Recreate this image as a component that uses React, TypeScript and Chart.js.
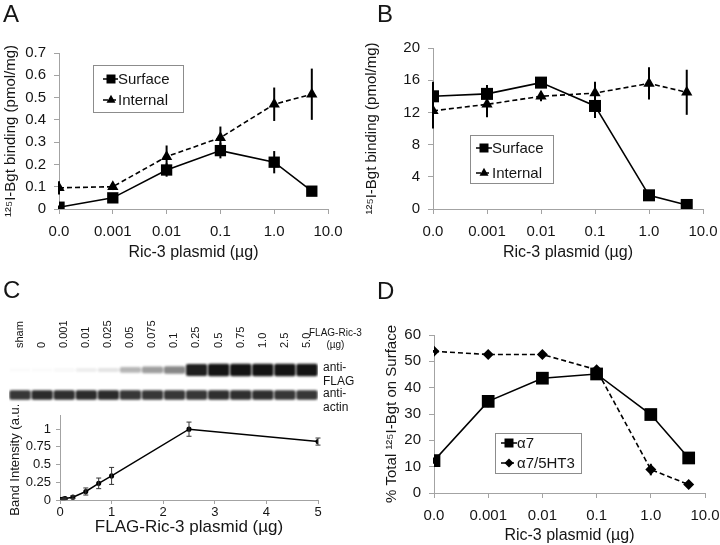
import React, { useEffect, useRef } from "react";
import { Chart, registerables } from "chart.js";
Chart.register(...registerables);

const FONT = "'Liberation Sans', Arial, Helvetica, sans-serif";
const AXIS = "#a3a3a3";
const TXT = "#151515";

// ---------- Panels A, B, D (log-like dose axis) ----------
const doses = [0, 0.001, 0.01, 0.1, 1, 5];
const logTickLabels = ["0.0", "0.001", "0.01", "0.1", "1.0", "10.0"];

const aSurface = [0.008, 0.05, 0.175, 0.262, 0.21, 0.08];
const aSurfaceErr = [0.008, 0.012, 0.03, 0.035, 0.05, 0.01];
const aInternal = [0.095, 0.1, 0.235, 0.32, 0.47, 0.515];
const aInternalErr = [0.03, 0.015, 0.05, 0.05, 0.075, 0.115];
const aYTicks = [0, 0.1, 0.2, 0.3, 0.4, 0.5, 0.6, 0.7];

const bSurface = [14.0, 14.3, 15.7, 12.8, 1.7, 0.5];
const bSurfaceErr = [1.8, 1.1, 0.3, 1.5, 0.5, 0.2];
const bInternal = [12.2, 13.0, 14.0, 14.4, 15.6, 14.5];
const bInternalErr = [2.2, 1.6, 0.6, 1.4, 2.0, 2.8];
const bYTicks = [0, 4, 8, 12, 16, 20];

const dAlpha7 = [12.3, 34.8, 43.6, 45.2, 29.8, 13.3];
const dAlpha7Err = [1.2, 2.2, 2.2, 1.5, 1.8, 0.8];
const dChimera = [53.8, 52.6, 52.6, 46.8, 8.9, 3.2];
const dChimeraErr = [0.5, 0.5, 0.5, 1.0, 2.2, 0.5];
const dYTicks = [0, 10, 20, 30, 40, 50, 60];

// ---------- Panel C ----------
const lanes = ["sham", "0", "0.001", "0.01", "0.025", "0.05", "0.075", "0.1", "0.25", "0.5", "0.75", "1.0", "2.5", "5.0"];
const flagBand = [0, 0, 0.02, 0.06, 0.1, 0.3, 0.4, 0.5, 0.95, 1, 1, 1, 1, 1];
const actinBand = [0.85, 0.9, 0.88, 0.9, 0.9, 0.85, 0.85, 0.85, 0.85, 0.88, 0.88, 0.88, 0.85, 0.85];
const cDoses = [0, 0.001, 0.01, 0.025, 0.05, 0.075, 0.1, 0.25, 0.5, 0.75, 1.0, 2.5, 5.0];
const cIntensity = [0, 0.002, 0.005, 0.008, 0.01, 0.015, 0.02, 0.04, 0.12, 0.235, 0.34, 1.0, 0.825];
const cErr = [0, 0, 0, 0, 0.005, 0.01, 0.01, 0.02, 0.05, 0.075, 0.12, 0.1, 0.05];
const cYTicks = [0, 0.25, 0.5, 0.75, 1];
const cXTicks = [0, 1, 2, 3, 4, 5];

const logPos = (d: number) => (d === 0 ? -4 : Math.log10(d));

// ---------- plugins ----------
const errorBars = {
  id: "errorBars",
  afterDatasetsDraw(chart: any) {
    const ctx = chart.ctx;
    const ys = chart.scales.y;
    chart.data.datasets.forEach((ds: any, i: number) => {
      if (!ds.errors) return;
      const meta = chart.getDatasetMeta(i);
      ctx.save();
      ctx.strokeStyle = ds.errorColor || "#000";
      ctx.lineWidth = ds.errorWidth || 1.5;
      meta.data.forEach((pt: any, j: number) => {
        const e = ds.errors[j];
        if (!e) return;
        const v = ds.data[j].y;
        const y1 = ys.getPixelForValue(v + e);
        const y2 = ys.getPixelForValue(v - e);
        ctx.beginPath();
        ctx.moveTo(pt.x, y1);
        ctx.lineTo(pt.x, y2);
        const cap = ds.errorCap || 0;
        if (cap) {
          ctx.moveTo(pt.x - cap, y1);
          ctx.lineTo(pt.x + cap, y1);
          ctx.moveTo(pt.x - cap, y2);
          ctx.lineTo(pt.x + cap, y2);
        }
        ctx.stroke();
      });
      ctx.restore();
    });
  },
};

function drawMarker(ctx: CanvasRenderingContext2D, style: string, r: number, x: number, y: number) {
  ctx.beginPath();
  if (style === "rect") {
    ctx.rect(x - r, y - r, 2 * r, 2 * r);
  } else if (style === "triangle") {
    ctx.moveTo(x, y - r * 1.15);
    ctx.lineTo(x + r, y + r * 0.6);
    ctx.lineTo(x - r, y + r * 0.6);
    ctx.closePath();
  } else {
    ctx.moveTo(x, y - r);
    ctx.lineTo(x + r, y);
    ctx.lineTo(x, y + r);
    ctx.lineTo(x - r, y);
    ctx.closePath();
  }
  ctx.fill();
}

const boxLegend = {
  id: "boxLegend",
  afterDraw(chart: any, _a: any, opts: any) {
    if (!opts || !opts.box) return;
    const ctx = chart.ctx;
    const [bx, by, bw, bh] = opts.box;
    ctx.save();
    ctx.strokeStyle = "#8c8c8c";
    ctx.lineWidth = 1;
    ctx.strokeRect(bx + 0.5, by + 0.5, bw, bh);
    chart.data.datasets.forEach((ds: any, i: number) => {
      const y = opts.rows[i];
      ctx.strokeStyle = "#000";
      ctx.lineWidth = 1.5;
      ctx.setLineDash(ds.borderDash || []);
      ctx.beginPath();
      ctx.moveTo(opts.lineX[0], y);
      ctx.lineTo(opts.lineX[1], y);
      ctx.stroke();
      ctx.setLineDash([]);
      ctx.fillStyle = "#000";
      drawMarker(ctx, ds.pointStyle, opts.markerSize[i], opts.markerX, y);
      ctx.fillStyle = TXT;
      ctx.font = `${opts.fontSize}px ${FONT}`;
      ctx.textBaseline = "middle";
      ctx.textAlign = "left";
      ctx.fillText(ds.label, opts.textX, y + 1);
    });
    ctx.restore();
  },
};

const blotBlur = {
  id: "blotBlur",
  beforeDatasetsDraw(chart: any) {
    chart.ctx.filter = "blur(1px)";
  },
  afterDatasetsDraw(chart: any) {
    chart.ctx.filter = "none";
  },
};

// ---------- config builders ----------
function fixY(width: number) {
  return (s: any) => {
    s.width = width;
    s.paddingTop = 0;
    s.paddingBottom = 0;
  };
}
function fixX(height: number) {
  return (s: any) => {
    s.height = height;
    s.paddingLeft = 0;
    s.paddingRight = 0;
  };
}

function logPanel(p: any) {
  return {
    type: "line",
    data: {
      datasets: p.series.map((s: any) => ({
        label: s.label,
        data: doses.map((d, i) => ({ x: logPos(d), y: s.values[i] })),
        errors: s.errors,
        errorWidth: 2,
        borderColor: "#000",
        borderWidth: 1.6,
        borderDash: s.dashed ? [5, 3] : [],
        pointStyle: s.style,
        pointRadius: s.radius,
        pointBackgroundColor: "#000",
        pointBorderColor: "#000",
        pointBorderWidth: 0,
        fill: false,
      })),
    },
    options: {
      responsive: false,
      animation: false,
      devicePixelRatio: 1,
      layout: { padding: { left: 0, right: p.padRight, top: p.padTop, bottom: 0 } },
      plugins: {
        legend: { display: false },
        tooltip: { enabled: false },
        boxLegend: p.legend,
      },
      scales: {
        x: {
          type: "linear",
          min: -4,
          max: 1,
          afterBuildTicks: (s: any) => {
            s.ticks = logTickLabels.map((_, i) => ({ value: i - 4 }));
          },
          afterFit: fixX(p.xHeight),
          ticks: {
            callback: (_v: any, i: number) => logTickLabels[i],
            font: { family: FONT, size: 15 },
            color: TXT,
            padding: 9,
            maxRotation: 0,
          },
          grid: { display: true, drawOnChartArea: false, drawTicks: true, tickLength: 5, color: AXIS },
          border: { display: true, color: AXIS, width: 1 },
          title: {
            display: true,
            text: "Ric-3 plasmid (µg)",
            font: { family: FONT, size: 16 },
            color: TXT,
            padding: { top: 0, bottom: p.xTitlePad },
          },
        },
        y: {
          type: "linear",
          min: 0,
          max: p.yMax,
          afterBuildTicks: (s: any) => {
            s.ticks = p.yTicks.map((v: number) => ({ value: v }));
          },
          afterFit: fixY(p.yWidth),
          ticks: {
            callback: (v: any) => String(v),
            font: { family: FONT, size: 15 },
            color: TXT,
            padding: 8,
          },
          grid: { display: true, drawOnChartArea: false, drawTicks: true, tickLength: 5, color: AXIS },
          border: { display: true, color: AXIS, width: 1 },
          title: {
            display: true,
            text: p.yTitle,
            font: { family: FONT, size: 15 },
            color: TXT,
            padding: { top: p.yTitlePad, bottom: 0 },
          },
        },
      },
    },
    plugins: [errorBars, boxLegend],
  };
}

function configA() {
  return logPanel({
    series: [
      { label: "Surface", values: aSurface, errors: aSurfaceErr, style: "rect", radius: 8, dashed: false },
      { label: "Internal", values: aInternal, errors: aInternalErr, style: "triangle", radius: 6.5, dashed: true },
    ],
    yMax: 0.7,
    yTicks: aYTicks,
    yTitle: "¹²⁵I-Bgt binding (pmol/mg)",
    yWidth: 59,
    xHeight: 66,
    padRight: 32,
    padTop: 53,
    xTitlePad: 13,
    yTitlePad: 2,
    legend: { box: [93, 65, 90, 47], rows: [79, 100], lineX: [103, 118], markerX: 111, markerSize: [4.5, 4.5], textX: 118, fontSize: 15 },
  });
}

function configB() {
  return logPanel({
    series: [
      { label: "Surface", values: bSurface, errors: bSurfaceErr, style: "rect", radius: 8.5, dashed: false },
      { label: "Internal", values: bInternal, errors: bInternalErr, style: "triangle", radius: 6.5, dashed: true },
    ],
    yMax: 20,
    yTicks: bYTicks,
    yTitle: "¹²⁵I-Bgt binding (pmol/mg)",
    yWidth: 73,
    xHeight: 66,
    padRight: 17,
    padTop: 48,
    xTitlePad: 13,
    yTitlePad: 3,
    legend: { box: [110, 135, 83, 48], rows: [148, 173], lineX: [116, 132], markerX: 124, markerSize: [4.5, 4.5], textX: 132, fontSize: 15 },
  });
}

function configD() {
  return logPanel({
    series: [
      { label: "α7", values: dAlpha7, errors: dAlpha7Err, style: "rect", radius: 9, dashed: false },
      { label: "α7/5HT3", values: dChimera, errors: dChimeraErr, style: "rectRot", radius: 5.5, dashed: true },
    ],
    yMax: 60,
    yTicks: dYTicks,
    yTitle: "% Total ¹²⁵I-Bgt on Surface",
    yWidth: 74,
    xHeight: 52,
    padRight: 15,
    padTop: 55,
    xTitlePad: 0,
    yTitlePad: 23,
    legend: { box: [135, 153, 86, 40], rows: [163, 183], lineX: [141, 157], markerX: 149, markerSize: [4.5, 4.5], textX: 157, fontSize: 15 },
  });
}

function configBlot() {
  const shade = (v: number) => `rgba(15,15,15,${0.02 + 0.96 * v})`;
  const flagC = 2.76;
  const actinC = 1.03;
  return {
    type: "bar",
    data: {
      labels: lanes,
      datasets: [
        {
          label: "anti-FLAG",
          data: flagBand.map((v) => [flagC - (0.1 + 0.33 * v), flagC + (0.1 + 0.33 * v)]),
          backgroundColor: flagBand.map(shade),
          borderRadius: 2,
          borderSkipped: false,
        },
        {
          label: "anti-actin",
          data: actinBand.map(() => [actinC - 0.33, actinC + 0.33]),
          backgroundColor: actinBand.map(shade),
          borderRadius: 2,
          borderSkipped: false,
        },
      ],
    },
    options: {
      responsive: false,
      animation: false,
      devicePixelRatio: 1,
      layout: { padding: { left: 9, right: 42, top: 0, bottom: 0 } },
      datasets: { bar: { barPercentage: 0.97, categoryPercentage: 1, grouped: false } },
      plugins: { legend: { display: false }, tooltip: { enabled: false } },
      scales: {
        x: {
          type: "category",
          position: "top",
          afterFit: fixX(52),
          grid: { display: false, drawTicks: false },
          border: { display: false },
          ticks: {
            autoSkip: false,
            minRotation: 90,
            maxRotation: 90,
            padding: 4,
            labelOffset: 13,
            font: { family: FONT, size: 11 },
            color: TXT,
          },
        },
        y: { display: false, min: 0, max: 4 },
      },
    },
    plugins: [blotBlur],
  };
}

function configC() {
  return {
    type: "line",
    data: {
      datasets: [
        {
          label: "Band Intensity",
          data: cDoses.map((x, i) => ({ x, y: cIntensity[i] })),
          errors: cErr,
          errorWidth: 1,
          errorCap: 2.5,
          errorColor: "#333",
          borderColor: "#000",
          borderWidth: 1.5,
          pointStyle: "circle",
          pointRadius: 1.8,
          pointBackgroundColor: "#000",
          pointBorderColor: "#000",
          fill: false,
        },
      ],
    },
    options: {
      responsive: false,
      animation: false,
      devicePixelRatio: 1,
      layout: { padding: { left: 0, right: 42, top: 10, bottom: 0 } },
      plugins: { legend: { display: false }, tooltip: { enabled: false } },
      scales: {
        x: {
          type: "linear",
          min: 0,
          max: 5,
          afterBuildTicks: (s: any) => {
            s.ticks = cXTicks.map((v) => ({ value: v }));
          },
          afterFit: fixX(45),
          ticks: { callback: (v: any) => String(v), font: { family: FONT, size: 13 }, color: TXT, padding: 1, maxRotation: 0 },
          grid: { display: true, drawOnChartArea: false, drawTicks: true, tickLength: 4, color: AXIS },
          border: { display: true, color: AXIS },
          title: {
            display: true,
            text: "FLAG-Ric-3 plasmid (µg)",
            font: { family: FONT, size: 17 },
            color: TXT,
            padding: { top: 0, bottom: 7 },
          },
        },
        y: {
          type: "linear",
          min: 0,
          max: 1.2,
          afterBuildTicks: (s: any) => {
            s.ticks = cYTicks.map((v) => ({ value: v }));
          },
          afterFit: fixY(60),
          ticks: { callback: (v: any) => String(v), font: { family: FONT, size: 13 }, color: TXT, padding: 5 },
          grid: { display: true, drawOnChartArea: false, drawTicks: true, tickLength: 4, color: AXIS },
          border: { display: true, color: AXIS },
          title: {
            display: true,
            text: "Band Intensity (a.u.)",
            font: { family: FONT, size: 13 },
            color: TXT,
            padding: { top: 8, bottom: 0 },
          },
        },
      },
    },
    plugins: [errorBars],
  };
}

function ChartBox({ left, top, width, height, make }: any) {
  const ref = useRef<HTMLCanvasElement | null>(null);
  useEffect(() => {
    const chart = new Chart(ref.current as HTMLCanvasElement, make());
    return () => chart.destroy();
  }, []);
  return (
    <div style={{ position: "absolute", left, top, width, height }}>
      <canvas ref={ref} width={width} height={height} style={{ width, height, display: "block" }} />
    </div>
  );
}

const label = (txt: string, left: number, top: number) => (
  <div style={{ position: "absolute", left, top, fontFamily: FONT, fontSize: 24, lineHeight: "24px", color: TXT }}>{txt}</div>
);

const small = (lines: string[], left: number, top: number, size: number, align: any = "left") => (
  <div
    style={{
      position: "absolute",
      left,
      top,
      fontFamily: FONT,
      fontSize: size,
      lineHeight: `${size + 2}px`,
      color: TXT,
      textAlign: align,
      whiteSpace: "nowrap",
    }}
  >
    {lines.map((l, i) => (
      <div key={i}>{l}</div>
    ))}
  </div>
);

export default function App() {
  return (
    <div style={{ position: "absolute", left: 0, top: 0, width: 720, height: 545, background: "#fff", overflow: "hidden" }}>
      <ChartBox left={0} top={0} width={360} height={275} make={configA} />
      <ChartBox left={360} top={0} width={360} height={275} make={configB} />
      <ChartBox left={0} top={300} width={360} height={110} make={configBlot} />
      <ChartBox left={0} top={405} width={360} height={140} make={configC} />
      <ChartBox left={360} top={280} width={360} height={265} make={configD} />
      {label("A", 3, 2)}
      {label("B", 377, 2)}
      {label("C", 3, 278)}
      {label("D", 377, 279)}
      <div style={{ position: "absolute", left: 309, top: 327, width: 54 }}>
        {small(["FLAG-Ric-3", "(µg)"], 0, 0, 10, "center")}
      </div>
      {small(["anti-", "FLAG"], 323, 360, 12)}
      {small(["anti-", "actin"], 323, 386, 12)}
    </div>
  );
}
